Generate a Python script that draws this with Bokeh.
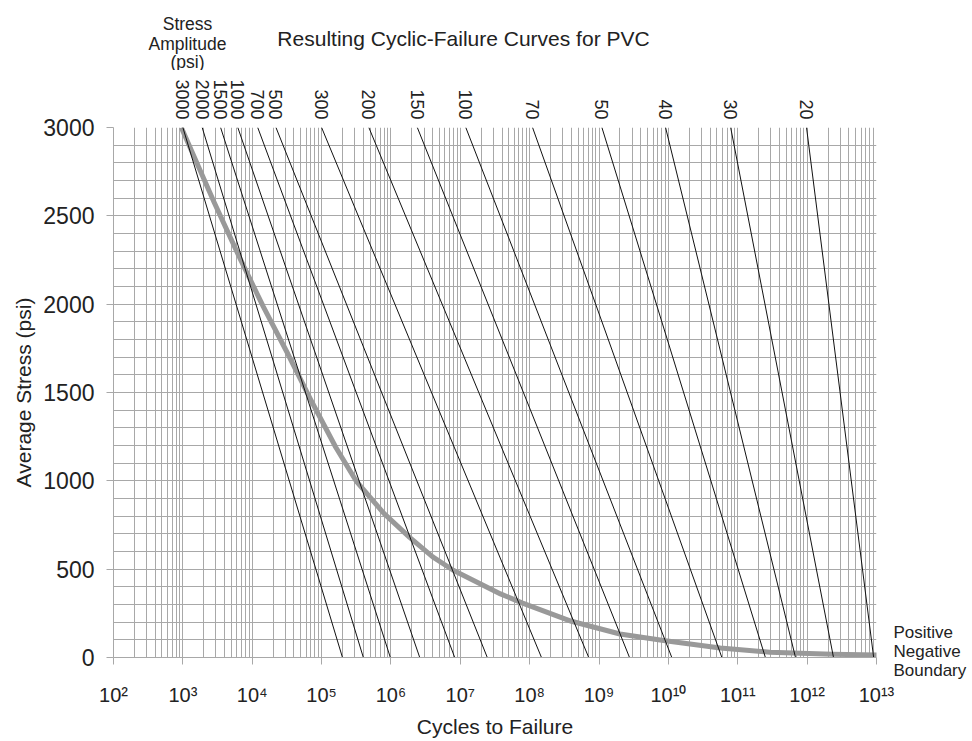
import math
from bokeh.plotting import figure
from bokeh.layouts import column
from bokeh.models import Range1d, FixedTicker, ColumnDataSource, LinearAxis, LogAxis
from bokeh.core.properties import value
from bokeh.embed import file_html
from bokeh.resources import INLINE

# ---------------- data ----------------
amplitude_labels = ["3000", "2000", "1500", "1000", "700", "500", "300", "200",
                    "150", "100", "70", "50", "40", "30", "20"]
# cycles to failure where each constant-amplitude line meets average stress 3000 psi and 0 psi
cycles_at_avg_3000 = [1.0e3, 1.9e3, 3.5e3, 6.2e3, 1.2e4, 2.2e4, 1.0e5, 4.8e5,
                      2.4e6, 1.2e7, 1.1e8, 1.1e9, 9.1e9, 7.9e10, 9.8e11]
cycles_at_avg_0 = [2.0e5, 4.0e5, 9.8e5, 2.6e6, 8.3e6, 2.45e7, 1.48e8, 7.1e8,
                   2.75e9, 1.12e10, 5.9e10, 2.5e11, 6.8e11, 2.4e12, 9.1e12]
avg_stress_top = 3000
avg_stress_bottom = 0

# positive / negative boundary curve
boundary_cycles = [9.5e2, 2.8e3, 6.8e3, 1.45e4, 3.2e4, 6.9e4, 1.6e5, 3.2e5, 7.9e5,
                   1.86e6, 4.0e6, 7.9e6, 3.8e7, 7.9e7, 4.0e8, 2.0e9, 8.5e9, 5.6e10,
                   2.9e11, 2.3e12, 1.3e13]
boundary_stress = [3000, 2580, 2251, 1985, 1725, 1463, 1190, 995, 816,
                   680, 570, 494, 360, 308, 205, 133, 96, 54,
                   30, 18, 14]
boundary_label_stress = 35
boundary_label_lines = ["Positive", "Negative", "Boundary"]

x_tick_values = [10 ** k for k in range(2, 14)]
x_tick_labels = ["10²", "10³", "10⁴", "10⁵", "10⁶", "10⁷", "10⁸", "10⁹",
                 "10¹⁰", "10¹¹", "10¹²", "10¹³"]
x_minor_mantissas = [2, 3, 4, 5, 6, 7, 8, 9]
y_tick_values = [0, 500, 1000, 1500, 2000, 2500, 3000]
y_grid_step = 100

title_text = "Resulting Cyclic-Failure Curves for PVC"
amplitude_heading = ["Stress", "Amplitude", "(psi)"]

# ---------------- layout ----------------
W = 970
LEFT = 113            # page x of 10^2
RIGHT_BORDER = 94     # page x of 10^13 = W - RIGHT_BORDER = 876
CHART_TOP = 127       # page y of 3000 psi
TOP_H = 70            # header strip (title + heading)
MAIN_TOP_BORDER = CHART_TOP - TOP_H   # holds the amplitude labels axis
FRAME_H = 533         # 3000 psi -> 0 psi
BOTTOM_BORDER = 80
psi_per_px = (avg_stress_top - avg_stress_bottom) / FRAME_H
header_y0 = avg_stress_top + MAIN_TOP_BORDER * psi_per_px
header_y1 = avg_stress_top + CHART_TOP * psi_per_px

FONT = "Liberation Sans"
TXT = "#222222"
GRID = "#a8a8a8"

x_range = Range1d(x_tick_values[0], x_tick_values[-1])

# ---------- header strip (shares the x scale) ----------
top = figure(width=W, height=TOP_H, x_axis_type="log", x_range=x_range,
             y_range=Range1d(header_y0, header_y1),
             x_axis_location=None, y_axis_location=None,
             output_backend="svg", toolbar_location=None,
             min_border_left=LEFT, min_border_right=RIGHT_BORDER,
             min_border_top=0, min_border_bottom=0)
top.outline_line_color = None
top.grid.visible = False
top.background_fill_color = "white"
top.border_fill_color = "white"

# title
top.text(x=[x_tick_values[0]], y=[avg_stress_top], text=[title_text],
         x_offset=350, y_offset=-89, text_align="center", text_baseline="alphabetic",
         text_font=value(FONT), text_font_size=value("21px"), text_color=TXT)

# "Stress Amplitude (psi)" heading
top.text(x=[x_tick_values[0]] * 3, y=[avg_stress_top] * 3, text=amplitude_heading,
         x_offset=74, y_offset=[-104, -84, -66], text_align="center",
         text_baseline="alphabetic",
         text_font=value(FONT), text_font_size=value("17.5px"), text_color=TXT)

# ---------- main chart ----------
p = figure(width=W, height=MAIN_TOP_BORDER + FRAME_H + BOTTOM_BORDER, x_axis_type="log",
           x_range=x_range, y_range=Range1d(avg_stress_bottom, avg_stress_top),
           output_backend="svg", toolbar_location=None,
           min_border_left=LEFT, min_border_right=RIGHT_BORDER,
           min_border_top=MAIN_TOP_BORDER, min_border_bottom=BOTTOM_BORDER)
p.outline_line_color = None
p.background_fill_color = "white"
p.border_fill_color = "white"

x_minor = [m * 10 ** k for k in range(2, 13) for m in x_minor_mantissas]
y_minor = list(range(y_tick_values[0], y_tick_values[-1] + 1, y_grid_step))
xticker = FixedTicker(ticks=x_tick_values, minor_ticks=x_minor)
yticker = FixedTicker(ticks=y_tick_values, minor_ticks=y_minor)
p.xaxis.ticker = xticker
p.yaxis.ticker = yticker
p.xgrid.ticker = xticker
p.ygrid.ticker = yticker
for g in (p.xgrid, p.ygrid):
    g.grid_line_color = GRID
    g.grid_line_width = 1
    g.minor_grid_line_color = GRID
    g.minor_grid_line_width = 1

for ax in (p.xaxis, p.yaxis):
    ax.axis_line_color = GRID
    ax.major_tick_line_color = GRID
    ax.minor_tick_line_color = None
    ax.major_tick_out = 7
    ax.major_tick_in = 0
    ax.major_label_text_font = FONT
    ax.major_label_text_color = TXT
    ax.axis_label_text_font = FONT
    ax.axis_label_text_font_style = "normal"
    ax.axis_label_text_color = TXT
    ax.axis_label_text_font_size = "21px"

p.xaxis.major_label_overrides = dict(zip(x_tick_values, x_tick_labels))
p.xaxis.major_label_text_font_size = "20px"
p.xaxis.major_label_standoff = 19
p.xaxis.axis_label = "Cycles to Failure"
p.xaxis.axis_label_standoff = 6

p.yaxis.major_label_text_font_size = "23px"
p.yaxis.major_label_standoff = 12
p.yaxis.axis_label = "Average Stress (psi)"
p.yaxis.axis_label_standoff = 5

# stress-amplitude labels: an axis above the frame, one tick at the top of each line
amp_axis = LogAxis(ticker=FixedTicker(ticks=cycles_at_avg_3000),
                   major_label_overrides=dict(zip(cycles_at_avg_3000, amplitude_labels)))
amp_axis.axis_line_color = None
amp_axis.major_tick_line_color = None
amp_axis.minor_tick_line_color = None
amp_axis.major_tick_out = 0
amp_axis.major_tick_in = 0
amp_axis.major_label_standoff = 8
amp_axis.major_label_orientation = -math.pi / 2
amp_axis.major_label_text_font = FONT
amp_axis.major_label_text_font_size = "18px"
amp_axis.major_label_text_color = TXT
p.add_layout(amp_axis, "above")

# right-hand label for the boundary curve
right_axis = LinearAxis(ticker=FixedTicker(ticks=[boundary_label_stress]),
                        major_label_overrides={boundary_label_stress: "\n".join(boundary_label_lines)})
right_axis.axis_line_color = None
right_axis.major_tick_line_color = None
right_axis.minor_tick_line_color = None
right_axis.major_tick_out = 0
right_axis.major_tick_in = 0
right_axis.major_label_standoff = 17
right_axis.major_label_text_font = FONT
right_axis.major_label_text_font_size = "17px"
right_axis.major_label_text_line_height = 1.0
right_axis.major_label_text_color = TXT
p.add_layout(right_axis, "right")

# boundary curve
p.line(boundary_cycles, boundary_stress, line_color="#999999", line_width=5,
       line_join="round", line_cap="butt")

# constant-amplitude lines
n = len(amplitude_labels)
seg_src = ColumnDataSource(dict(
    x0=cycles_at_avg_3000, x1=cycles_at_avg_0,
    y0=[avg_stress_top] * n, y1=[avg_stress_bottom] * n))
p.segment(x0="x0", y0="y0", x1="x1", y1="y1", source=seg_src,
          line_color="#111111", line_width=1)

layout = column(top, p, spacing=0)
open("out.html", "w").write(file_html(layout, INLINE))
